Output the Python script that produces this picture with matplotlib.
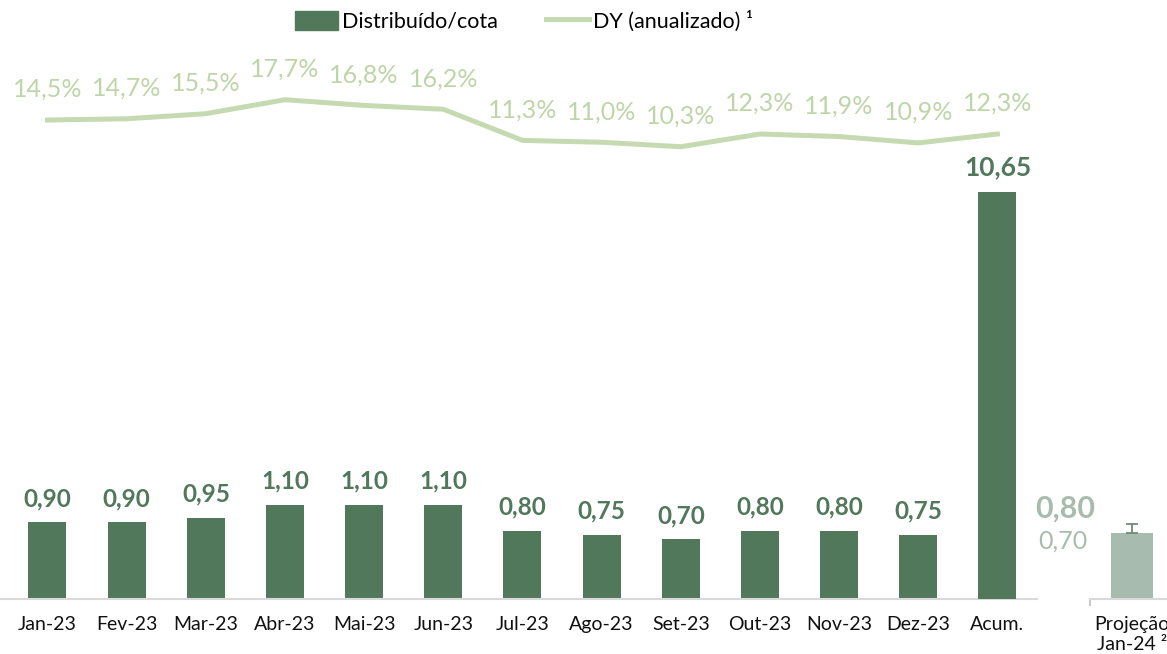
import matplotlib
matplotlib.use("Agg")
import matplotlib.pyplot as plt
from matplotlib.patches import Patch
from matplotlib.lines import Line2D

plt.rcParams['font.family'] = ['Lato', 'DejaVu Sans']

months = ["Jan-23", "Fev-23", "Mar-23", "Abr-23", "Mai-23", "Jun-23",
          "Jul-23", "Ago-23", "Set-23", "Out-23", "Nov-23", "Dez-23"]
acum_label = "Acum."
dist = [0.90, 0.90, 0.95, 1.10, 1.10, 1.10, 0.80, 0.75, 0.70, 0.80, 0.80, 0.75]
acum_value = 10.65
dy = [14.5, 14.7, 15.5, 17.7, 16.8, 16.2, 11.3, 11.0, 10.3, 12.3, 11.9, 10.9, 12.3]
proj_label = "Projeção\nJan-24 ²"
proj_low = 0.70
proj_high = 0.80

BAR = "#52785c"
LINE = "#c6dab2"
LINE_TXT = "#bed5a8"
PROJ = "#a7bcae"
SPINE = "#d9d9d9"

def fmt(v, d=2):
    return f"{v:.{d}f}".replace(".", ",")

W, H = 1167, 654
fig = plt.figure(figsize=(W / 100, H / 100), dpi=100)

base = 599
top = 40
ax_bottom = (H - base) / H
ax_height = (base - top) / H
ax = fig.add_axes([0.0, ax_bottom, 1037 / W, ax_height])
ax_acum = ax.twinx()
ax_dy = ax.twinx()

n = len(months)
xs = list(range(n))
ax.bar(xs, dist, width=0.48, color=BAR, zorder=2)
ax_acum.bar([n], [acum_value], width=0.48, color=BAR, zorder=2)

ax.set_xlim(-0.6, n + 0.5)
ax.set_ylim(0, 6.54)
ax_acum.set_ylim(0, 14.63)
ax_dy.set_ylim(-60.9, 27.1)

for x, v in zip(xs, dist):
    ax.annotate(fmt(v), (x, v), xytext=(0, 17), textcoords="offset points",
                ha="center", va="center", fontsize=17.5, fontweight="bold", color=BAR)
ax_acum.annotate(fmt(acum_value), (n, acum_value), xytext=(0, 18),
                 textcoords="offset points", ha="center", va="center",
                 fontsize=19, fontweight="bold", color=BAR)

dx = list(range(len(dy)))
ax_dy.plot(dx, dy, color=LINE, lw=3.6, solid_joinstyle="round", zorder=3)
for x, v in zip(dx, dy):
    ax_dy.annotate(fmt(v, 1) + "%", (x, v), xytext=(0, 22), textcoords="offset points",
                   ha="center", va="center", fontsize=18, color=LINE_TXT)

ax.set_xticks(xs + [n])
ax.set_xticklabels(months + [acum_label], fontsize=14, color="#111111")
ax.tick_params(axis="x", length=0, pad=12)
for a in (ax, ax_acum, ax_dy):
    a.set_yticks([])
    for s in ("top", "left", "right"):
        a.spines[s].set_visible(False)
    a.spines["bottom"].set_visible(False)
ax.spines["bottom"].set_visible(True)
ax.spines["bottom"].set_color(SPINE)
ax.spines["bottom"].set_linewidth(1.5)
ax.patch.set_visible(False)

# projection axes (partly outside the figure, as in the reference)
pleft = 1090
pax = fig.add_axes([pleft / W, ax_bottom, 84 / W, ax_height])
pax.bar([0], [proj_low], width=0.5, color=PROJ,
        yerr=[[0], [proj_high - proj_low]],
        error_kw=dict(ecolor="#6f8a78", lw=1.3, capsize=4, capthick=1.3))
pax.set_xlim(-0.5, 0.5)
pax.set_ylim(0, 5.93)
pax.set_yticks([])
for s in ("top", "left", "right"):
    pax.spines[s].set_visible(False)
pax.spines["bottom"].set_color(SPINE)
pax.spines["bottom"].set_linewidth(1.5)
pax.set_xticks([0])
pax.set_xticklabels([proj_label], fontsize=14, color="#111111", linespacing=1.25)
pax.set_xticks([-0.5], minor=True)
pax.tick_params(axis="x", which="major", length=0, pad=12)
pax.tick_params(axis="x", which="minor", length=5, width=1.2, color="#bfbfbf")
pax.patch.set_visible(False)
pax.annotate(fmt(proj_high), (0, proj_high), xytext=(-48, 11), textcoords="offset points",
             ha="center", va="center", fontsize=22, fontweight="bold", color=PROJ,
             annotation_clip=False)
pax.annotate(fmt(proj_low), (0, proj_low), xytext=(-50, -6), textcoords="offset points",
             ha="center", va="center", fontsize=18, color=PROJ, annotation_clip=False)

handles = [Patch(facecolor=BAR, edgecolor=BAR),
           Line2D([0], [0], color=LINE, lw=3.6)]
fig.legend(handles, ["Distribuído/cota", "DY (anualizado) ¹"], loc="center",
           bbox_to_anchor=(524 / W, 1 - 21 / H), ncol=2, frameon=False, fontsize=15.5,
           handlelength=2.0, handleheight=1.0, columnspacing=2.2, handletextpad=0.2)

fig.savefig("out.png", dpi=100)
